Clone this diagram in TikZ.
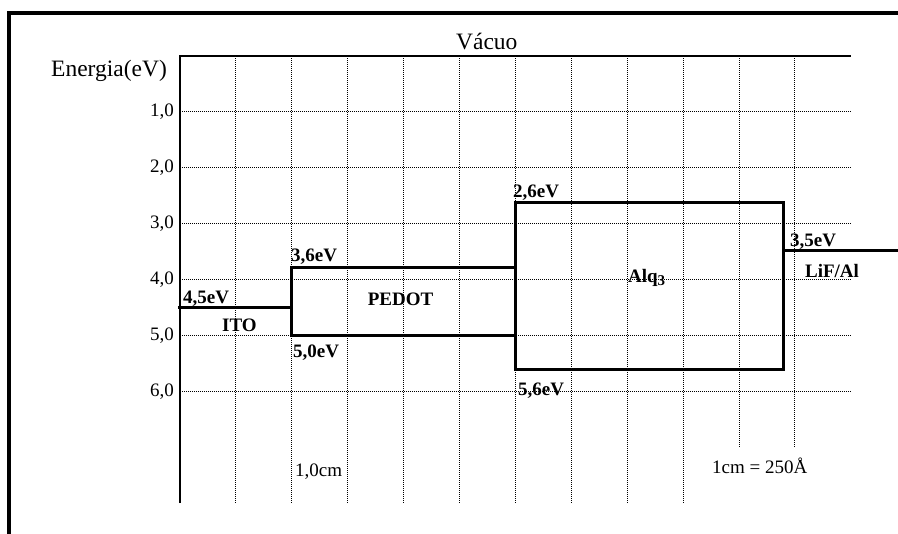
\documentclass[tikz,border=0pt]{standalone}
\usepackage{fontspec}
\setmainfont{Liberation Serif}

\begin{document}
\begin{tikzpicture}[x=55.9pt,y=-55.9pt,
    level/.style={line width=3pt},
    axisline/.style={line width=1.3pt},
    gridline/.style={line width=0.9pt,dash pattern=on 1pt off 1pt},
    big/.style={inner sep=0pt,font=\fontsize{23.5}{26}\selectfont},
    small/.style={inner sep=0pt,font=\fontsize{19}{21}\selectfont},
    tag/.style={inner sep=0pt,font=\bfseries\fontsize{19}{21}\selectfont}]
    \useasboundingbox (-3.220,-1.002) rectangle (12.845,8.551);
    % frame
    \draw[line width=4pt] (-3.06,8.7) -- (-3.06,-0.77) -- (13,-0.77);
    % grid
    \foreach \e in {1,...,6}
        \draw[gridline] (0,\e) -- (12,\e);
    \foreach \k in {1,...,9}
        \draw[gridline] (\k,0) -- (\k,8);
    \foreach \k in {10,11}
        \draw[gridline] (\k,0) -- (\k,7);
    \draw[axisline] (0,8) -- (0,0) -- (12,0);
    % levels
    \draw[level] (-0.04,4.5) -- (2,4.5);
    \draw[level] (2,3.78) rectangle (6,5);
    \draw[level] (6,2.62) rectangle (10.8,5.6);
    \draw[level] (10.8,3.48) -- (12.9,3.48);
    % texts
    \node[big,anchor=base west] (energia) at (-2.308,0.358) {Energia(eV)};
    \node[big,anchor=base west] (vacuo) at (4.937,-0.125) {Vácuo};
    \foreach \e in {1,...,6}
        \node[small,anchor=base east] (tick\e) at (-0.107,\e+0.09) {\e,0};
    \node[tag,anchor=base west] (ito) at (0.054,4.419) {4,5eV};
    \node[tag,anchor=base] (itoname) at (1.064,4.92) {ITO};
    \node[tag,anchor=base west] (pedtop) at (1.986,3.685) {3,6eV};
    \node[tag,anchor=base] (pedname) at (3.945,4.472) {PEDOT};
    \node[tag,anchor=base west] (pedbot) at (2.02,5.385) {5,0eV};
    \node[tag,anchor=base west] (alqtop) at (5.957,2.54) {2,6eV};
    \node[tag,anchor=base west] (alqname) at (8.014,4.06) {Alq{\fontsize{15}{16}\selectfont\raisebox{-0.3ex}{3}}};
    \node[tag,anchor=base west] (alqbot) at (6.046,6.082) {5,6eV};
    \node[tag,anchor=base west] (lif) at (10.912,3.399) {3,5eV};
    \node[tag,anchor=base west] (lifname) at (11.18,3.97) {LiF/Al};
    \node[small,anchor=base west] (unit) at (2.057,7.531) {1,0cm};
    \node[small,anchor=base west] (scale) at (9.517,7.46) {1cm = 250Å};
\end{tikzpicture}
\end{document}
